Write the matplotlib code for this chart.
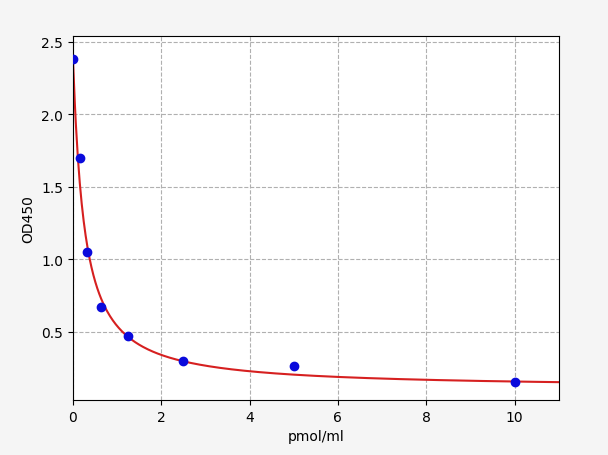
import matplotlib
matplotlib.use('Agg')
import matplotlib.pyplot as plt
import numpy as np

# standard points
conc = [0, 0.156, 0.3125, 0.625, 1.25, 2.5, 5, 10]
od = [2.38, 1.70, 1.05, 0.67, 0.47, 0.30, 0.26, 0.15]

# 4PL fit parameters (top, bottom, c, slope)
top, bottom, c50, slope = 2.38, 0.11, 0.25, 1.05

fig = plt.figure(figsize=(6.08, 4.56), dpi=100, facecolor='#f5f5f5')
ax = fig.add_axes([0.12, 0.121, 0.799, 0.798])

xs = np.linspace(0, 11, 500)
ys = bottom + (top - bottom) / (1 + (xs / c50) ** slope)
ax.plot(xs, ys, color='#d62020', lw=1.5, zorder=2)
ax.scatter(conc, od, color='#0a0adc', s=36, zorder=3)

ax.set_xlim(0, 11)
ax.set_ylim(0.03, 2.54)
ax.set_yticks([0.5, 1.0, 1.5, 2.0, 2.5])
ax.grid(True, ls='--', color='#b0b0b0', lw=0.8)
ax.set_xlabel('pmol/ml')
ax.set_ylabel('OD450')

fig.savefig('out.png', dpi=100, facecolor=fig.get_facecolor())
